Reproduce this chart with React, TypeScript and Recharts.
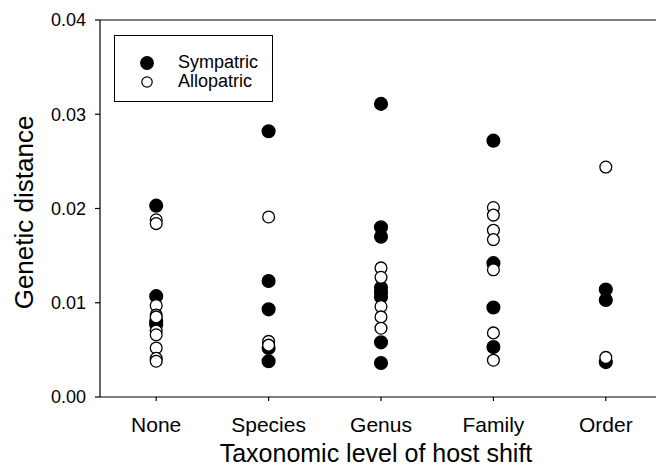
import React from "react";
import {
  ScatterChart,
  Scatter,
  XAxis,
  YAxis,
  ReferenceLine,
  Legend,
} from "recharts";

const CATEGORIES = ["None", "Species", "Genus", "Family", "Order"];
const Y_TICKS = [0, 0.01, 0.02, 0.03, 0.04];

// genetic distance values per category
const SYMPATRIC = [
  [0.0203, 0.0107, 0.008, 0.0077],
  [0.0282, 0.0123, 0.0093, 0.0052, 0.0038],
  [0.0311, 0.018, 0.017, 0.0116, 0.0111, 0.0106, 0.0058, 0.0036],
  [0.0272, 0.0142, 0.0095, 0.0053],
  [0.0114, 0.0103, 0.0037],
];

const ALLOPATRIC = [
  [0.0188, 0.0184, 0.0097, 0.0087, 0.0085, 0.007, 0.0066, 0.0052, 0.0041, 0.0038],
  [0.0191, 0.0059, 0.0055],
  [0.0137, 0.0127, 0.0096, 0.0085, 0.0073],
  [0.0201, 0.0193, 0.0177, 0.0167, 0.0135, 0.0068, 0.0039],
  [0.0244, 0.0042],
];

const toPoints = (groups: number[][]) =>
  groups.flatMap((vals, i) => vals.map((v) => ({ x: i, y: v })));

const FONT = "'Liberation Sans', Arial, sans-serif";

const dot = (filled: boolean) => (props: any) =>
  (
    <circle
      cx={props.cx}
      cy={props.cy}
      r={filled ? 6.4 : 5.9}
      fill={filled ? "#000" : "#fff"}
      stroke="#000"
      strokeWidth={1.3}
    />
  );

function LegendBox() {
  return (
    <div
      style={{
        width: 157,
        height: 65,
        border: "1px solid #000",
        background: "#fff",
        fontFamily: FONT,
        fontSize: 18,
        position: "relative",
      }}
    >
      {[
        { label: "Sympatric", filled: true, top: 27 },
        { label: "Allopatric", filled: false, top: 46 },
      ].map((it) => (
        <div key={it.label}>
          <svg
            width={16}
            height={16}
            style={{ position: "absolute", left: 24, top: it.top - 8 }}
          >
            <circle
              cx={8}
              cy={8}
              r={it.filled ? 6.3 : 5.2}
              fill={it.filled ? "#000" : "#fff"}
              stroke="#000"
              strokeWidth={1.2}
            />
          </svg>
          <span
            style={{
              position: "absolute",
              left: 63,
              top: it.top - 11,
              lineHeight: "20px",
              color: "#000",
            }}
          >
            {it.label}
          </span>
        </div>
      ))}
    </div>
  );
}

export default function App() {
  return (
    <div
      style={{
        position: "absolute",
        left: 0,
        top: 0,
        width: 656,
        height: 468,
        overflow: "hidden",
        background: "#fff",
      }}
    >
      <ScatterChart
        width={664}
        height={468}
        margin={{ top: 20, right: 2, left: 0, bottom: 0 }}
      >
        <XAxis
          type="number"
          dataKey="x"
          domain={[-0.5, 4.5]}
          ticks={[0, 1, 2, 3, 4]}
          tickFormatter={(i: number) => CATEGORIES[i]}
          height={71}
          tickSize={4}
          tickMargin={16}
          stroke="#000"
          strokeWidth={1.2}
          tick={{ fontSize: 21, fill: "#000", fontFamily: FONT }}
          label={{
            content: ({ viewBox }: any) => (
              <text
                x={viewBox.x + viewBox.width / 2 - 5}
                y={462}
                textAnchor="middle"
                fontSize={25}
                fontFamily={FONT}
                fill="#000"
              >
                Taxonomic level of host shift
              </text>
            ),
          }}
        />
        <YAxis
          type="number"
          dataKey="y"
          domain={[0, 0.04]}
          ticks={Y_TICKS}
          tickFormatter={(v: number) => v.toFixed(2)}
          width={100}
          tickSize={5}
          tickMargin={9}
          stroke="#000"
          strokeWidth={1.2}
          tick={{ fontSize: 18, fill: "#000", fontFamily: FONT }}
          label={{
            content: ({ viewBox }: any) => (
              <text
                x={33}
                y={viewBox.y + viewBox.height / 2 + 4}
                transform={`rotate(-90, 33, ${viewBox.y + viewBox.height / 2 + 4})`}
                textAnchor="middle"
                fontSize={26}
                fontFamily={FONT}
                fill="#000"
              >
                Genetic distance
              </text>
            ),
          }}
        />
        <ReferenceLine y={0.04} stroke="#000" strokeWidth={1.2} />
        <Legend
          layout="vertical"
          verticalAlign="middle"
          align="center"
          wrapperStyle={{ left: 114, top: 35, width: 159, height: 67 }}
          content={() => <LegendBox />}
        />
        <Scatter
          name="Sympatric"
          data={toPoints(SYMPATRIC)}
          shape={dot(true)}
          isAnimationActive={false}
        />
        <Scatter
          name="Allopatric"
          data={toPoints(ALLOPATRIC)}
          shape={dot(false)}
          isAnimationActive={false}
        />
      </ScatterChart>
    </div>
  );
}
